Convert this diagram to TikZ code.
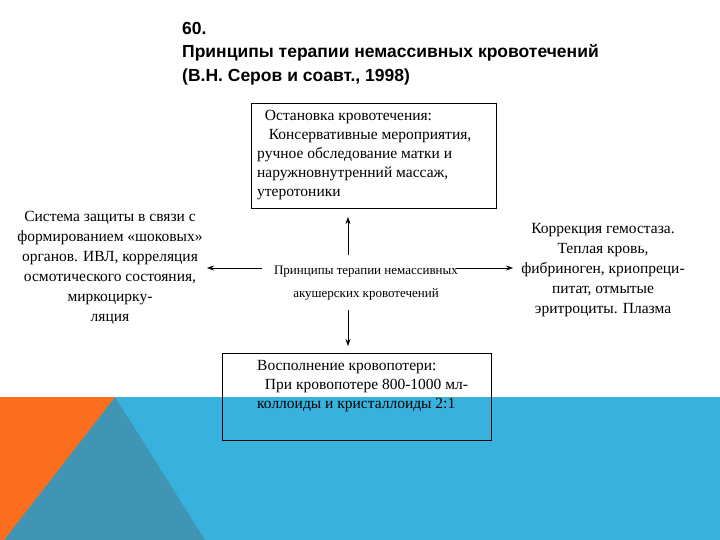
\documentclass[tikz,border=0pt]{standalone}
\usepackage{fontspec}
\setmainfont{Liberation Serif}
\newfontfamily\titlefont{Liberation Sans}
\usetikzlibrary{arrows.meta}
\begin{document}
\begin{tikzpicture}[x=1pt,y=-1pt,
  box/.style={draw,line width=0.6pt},
  txt/.style={font=\fontsize{15.5}{19}\selectfont,align=center,inner sep=0},
  arr/.style={-{Stealth[length=7pt,width=5pt]},line width=0.6pt}]
\useasboundingbox (0,0) rectangle (720,540);
\fill[white] (0,0) rectangle (720,540);
\fill[fill={rgb,255:red,56;green,178;blue,220}] (0,397) rectangle (720,540);
\fill[fill={rgb,255:red,64;green,148;blue,180}] (115,397) -- (205,540) -- (0,540) -- cycle;
\fill[fill={rgb,255:red,250;green,110;blue,30}] (0,397) -- (115,397) -- (4,540) -- (0,540) -- cycle;
\node[anchor=north west,align=left,inner sep=0,font=\titlefont\bfseries\fontsize{17.5}{23.5}\selectfont] (title) at (182,22)
 {60.\\Принципы терапии немассивных кровотечений\\(В.Н. Серов и соавт., 1998)};
\draw[box] (251,103) rectangle (496,208);
\node[txt,align=left,anchor=north west] (top) at (257,110)
 {\ \ Остановка кровотечения:\\\ \ \ Консервативные мероприятия,\\ручное обследование матки и\\наружновнутренний массаж,\\утеротоники};
\draw[box] (222,353) rectangle (491,440);
\node[txt,align=left,anchor=north west] (bot) at (257,360)
 {Восполнение кровопотери:\\\ \ При кровопотере 800-1000 мл-\\коллоиды и кристаллоиды 2:1};
\node[txt,font=\fontsize{13}{23}\selectfont] (c) at (366,283)
 {Принципы терапии немассивных\\акушерских кровотечений};
\node[txt,font=\fontsize{15.5}{20}\selectfont] (l) at (110,268)
 {Система защиты в связи с\\формированием «шоковых»\\органов. ИВЛ, корреляция\\осмотического состояния,\\миркоцирку-\\ляция};
\node[txt,font=\fontsize{15.5}{20}\selectfont] (r) at (603,270)
 {Коррекция гемостаза.\\Теплая кровь,\\фибриноген, криопреци-\\питат, отмытые\\эритроциты. Плазма};
\coordinate (ut) at (348,217); \coordinate (uf) at (348,255);
\coordinate (dt) at (348,346); \coordinate (df) at (348,310);
\coordinate (lt) at (207,268); \coordinate (lf) at (262,268);
\coordinate (rt) at (513,268); \coordinate (rf) at (456,268);
\draw[arr] (uf) -- (ut);
\draw[arr] (df) -- (dt);
\draw[arr] (lf) -- (lt);
\draw[arr] (rf) -- (rt);
\end{tikzpicture}
\end{document}
